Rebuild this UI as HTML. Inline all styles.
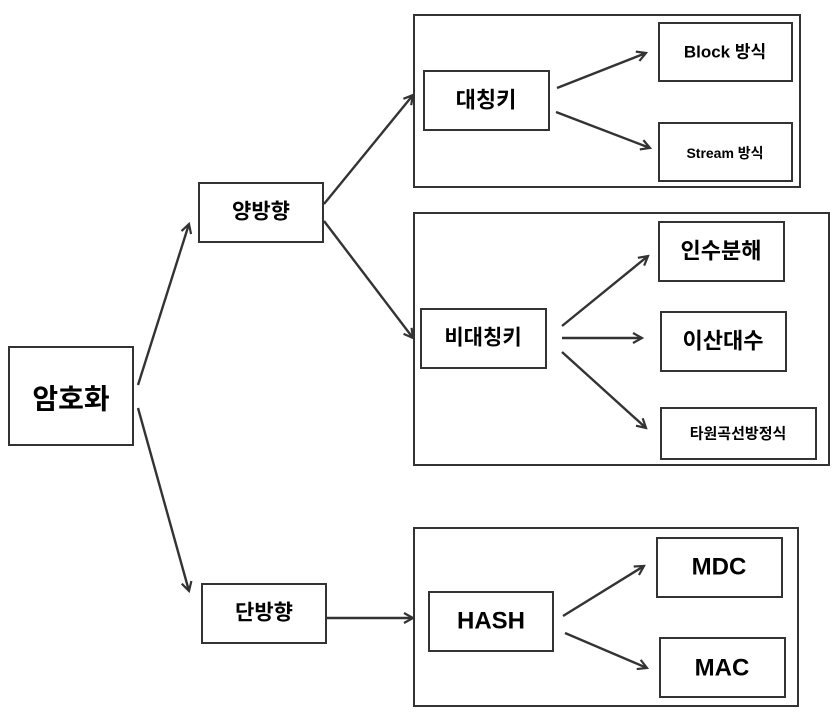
<!DOCTYPE html>
<html><head><meta charset="utf-8"><style>
html,body{margin:0;padding:0;background:#fff;}
svg text{font-family:"Liberation Sans","Noto Sans CJK KR","NanumGothic",sans-serif;font-weight:bold;fill:#000;text-anchor:middle;dominant-baseline:central;}
</style></head><body>
<svg width="837" height="720" viewBox="0 0 837 720" xmlns="http://www.w3.org/2000/svg">
<defs><marker id="a" markerWidth="12" markerHeight="12" refX="10" refY="6" orient="auto" markerUnits="userSpaceOnUse"><path d="M1,1 L10,6 L1,11" fill="none" stroke="#333" stroke-width="2.2"/></marker></defs>
<g fill="none" stroke="#333" stroke-width="2">
<rect x="414" y="15" width="386" height="172"/>
<rect x="414" y="213" width="415" height="252"/>
<rect x="414" y="528" width="384" height="178"/>
<rect x="9" y="347" width="124" height="98"/>
<rect x="199" y="183" width="124" height="59"/>
<rect x="202" y="584" width="124" height="59"/>
<rect x="424" y="71" width="125" height="59"/>
<rect x="659" y="23" width="133" height="58"/>
<rect x="659" y="123" width="133" height="58"/>
<rect x="421" y="309" width="125" height="59"/>
<rect x="659" y="222" width="125" height="59"/>
<rect x="661" y="312" width="125" height="59"/>
<rect x="661" y="408" width="155" height="51"/>
<rect x="429" y="592" width="124" height="59"/>
<rect x="657" y="538" width="125" height="59"/>
<rect x="660" y="638" width="125" height="59"/>
</g>
<g stroke="#333" stroke-width="2.4" marker-end="url(#a)">
<line x1="138" y1="385" x2="189" y2="224"/>
<line x1="138" y1="408" x2="189" y2="591"/>
<line x1="324" y1="204" x2="413" y2="95"/>
<line x1="324" y1="221" x2="413" y2="338"/>
<line x1="326" y1="618" x2="413" y2="618"/>
<line x1="557" y1="88" x2="646" y2="53"/>
<line x1="556" y1="112" x2="650" y2="148"/>
<line x1="562" y1="326" x2="648" y2="256"/>
<line x1="562" y1="338" x2="642" y2="338"/>
<line x1="562" y1="352" x2="646" y2="428"/>
<line x1="563" y1="616" x2="644" y2="566"/>
<line x1="565" y1="633" x2="647" y2="668"/>
</g>
<text x="71" y="399" font-size="28">암호화</text>
<text x="261" y="212" font-size="21">양방향</text>
<text x="264" y="613" font-size="21">단방향</text>
<text x="486" y="100" font-size="22">대칭키</text>
<text x="725" y="52" font-size="17">Block 방식</text>
<text x="725" y="153" font-size="14">Stream 방식</text>
<text x="483" y="338" font-size="21">비대칭키</text>
<text x="721" y="251" font-size="22">인수분해</text>
<text x="723" y="341" font-size="22">이산대수</text>
<text x="738" y="434" font-size="15">타원곡선방정식</text>
<text x="491" y="621" font-size="24">HASH</text>
<text x="719" y="567" font-size="24">MDC</text>
<text x="722" y="668" font-size="24">MAC</text>
</svg>
</body></html>
